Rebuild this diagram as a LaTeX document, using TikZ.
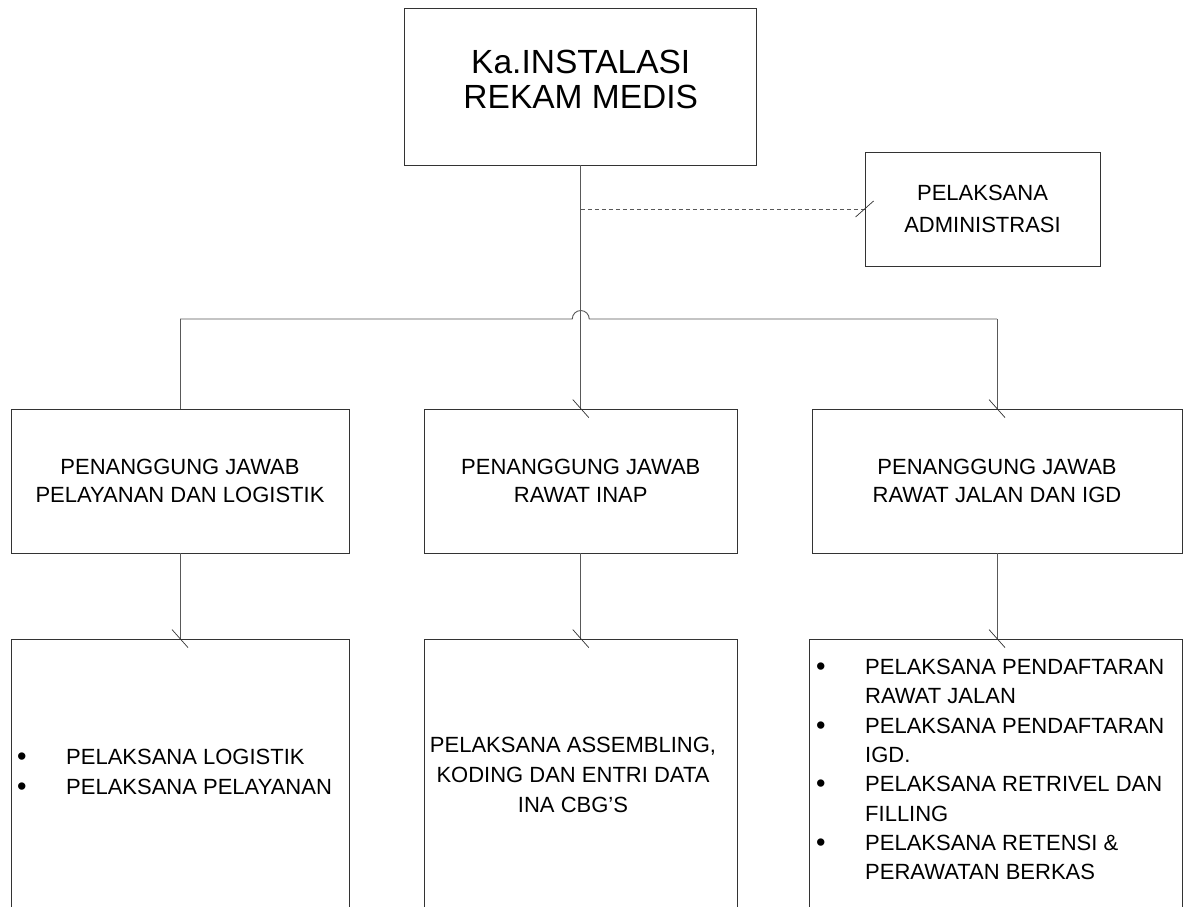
\documentclass[tikz,border=0pt]{standalone}
\usepackage{fontspec}
\setmainfont{Liberation Sans}
\usetikzlibrary{decorations.markings,calc}
\tikzset{
  box/.style={draw=black!80, line width=0.9pt, rectangle, inner sep=0pt},
  conn/.style={draw=black!65, line width=0.9pt},
  tickend/.style={postaction={decorate, decoration={markings,
      mark=at position 1 with {\draw[solid, black!80, line width=0.7pt] (-9pt,-8pt) -- (9pt,8pt);}}}},
  lbl/.style={font=\fontsize{22}{28}\selectfont, align=center},
  listtext/.style={font=\fontsize{22}{30}\selectfont, align=left, inner sep=0pt, anchor=west},
}
\newcommand{\bul}{\makebox[49pt][l]{\raisebox{-1pt}{\fontsize{27}{27}\selectfont\textbullet}}}
\newcommand{\nobul}{\hspace*{49pt}}
\begin{document}
\begin{tikzpicture}[x=1pt,y=1pt]
\clip (0,0) rectangle (1190,-906);
\fill[white] (0,0) rectangle (1190,-906);

% top box
\node[box, minimum width=352pt, minimum height=157pt] (top) at (580.75,-86.5) {};
\node[font=\fontsize{33.5}{35}\selectfont, align=center, inner sep=0pt] (toptext) at (580.75,-79.5) {Ka.INSTALASI\\REKAM MEDIS};

% admin box
\node[box, minimum width=235pt, minimum height=114pt, font=\fontsize{22}{32}\selectfont, align=center] (admin) at (982.5,-209) {PELAKSANA\\ADMINISTRASI};

% level 2
\node[box, minimum width=338pt, minimum height=144pt, lbl] (l2) at (180,-481) {PENANGGUNG JAWAB\\PELAYANAN DAN LOGISTIK};
\node[box, minimum width=313pt, minimum height=144pt, lbl] (m2) at (580.75,-481) {PENANGGUNG JAWAB\\RAWAT INAP};
\node[box, minimum width=370pt, minimum height=144pt, lbl] (r2) at (997,-481) {PENANGGUNG JAWAB\\RAWAT JALAN DAN IGD};

% level 3
\node[box, minimum width=338pt, minimum height=291pt] (l3) at (180,-784.5) {};
\node[box, minimum width=313pt, minimum height=291pt] (m3) at (580.75,-784.5) {};
\node[box, minimum width=373pt, minimum height=291pt] (r3) at (995.5,-784.5) {};

\node[listtext] (l3text) at (17,-772) {\bul PELAKSANA LOGISTIK\\\bul PELAKSANA PELAYANAN};
\node[font=\fontsize{22}{30}\selectfont, align=center, inner sep=0pt] (m3text) at (573,-775) {PELAKSANA ASSEMBLING,\\KODING DAN ENTRI DATA\\INA CBG’S};
\node[listtext, font=\fontsize{22}{29.3}\selectfont] (r3text) at (816,-769.5) {\bul PELAKSANA PENDAFTARAN\\\nobul RAWAT JALAN\\\bul PELAKSANA PENDAFTARAN\\\nobul IGD.\\\bul PELAKSANA RETRIVEL DAN\\\nobul FILLING\\\bul PELAKSANA RETENSI \&\\\nobul PERAWATAN BERKAS};

% connectors
\coordinate (busy) at (0,-319);
\coordinate (bl) at (l2.north |- busy);
\coordinate (br) at (r2.north |- busy);
\coordinate (bj) at (top.south |- busy);
\coordinate (dj) at (top.south |- admin.west);

\draw[conn] (bl) -- ($(bj)+(-8.5,0)$) arc[start angle=180, end angle=0, radius=8.5pt] -- (br);
\draw[conn] (bl) -- (l2.north);
\draw[conn, tickend] (br) -- (r2.north);
\draw[conn, tickend] (top.south) -- (m2.north);
\draw[conn, dashed, dash pattern=on 4pt off 3pt, tickend] (dj) -- (admin.west);

\draw[conn, tickend] (l2.south) -- (l3.north);
\draw[conn, tickend] (m2.south) -- (m3.north);
\draw[conn, tickend] (r2.south) -- (r2.south |- r3.north);
\end{tikzpicture}
\end{document}
